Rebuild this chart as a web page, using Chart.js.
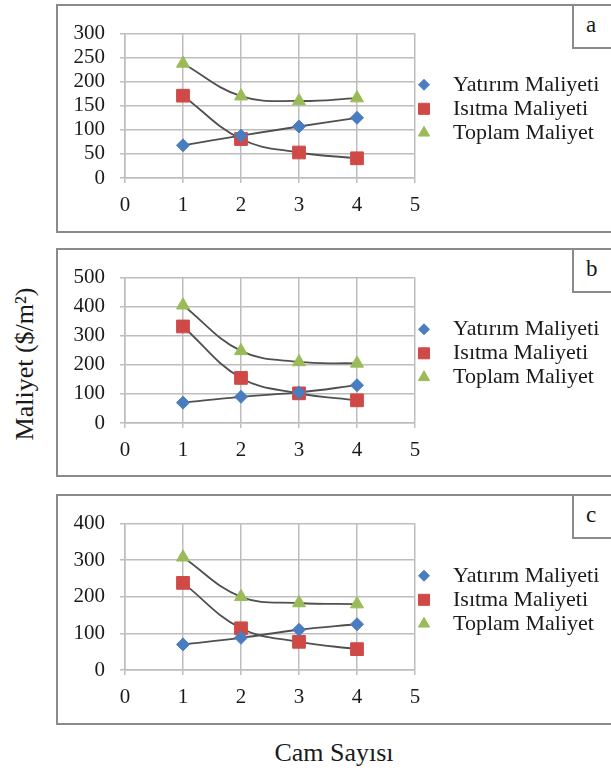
<!DOCTYPE html>
<html>
<head>
<meta charset="utf-8">
<script src="https://cdn.jsdelivr.net/npm/chart.js@4.4.1/dist/chart.umd.min.js"></script>
<style>
  body {
    margin: 0;
    width: 611px;
    height: 776px;
    overflow: hidden;
    position: relative;
    background: #fff;
    font-family: "Liberation Serif", "Times New Roman", serif;
    color: #1a1a1a;
  }
  .panel {
    position: absolute;
    left: 56px;
    width: 600px;
    border: 2px solid #8a8a8a;
    box-sizing: border-box;
  }
  .tag {
    position: absolute;
    left: 514px;
    top: -2px;
    width: 60px;
    height: 45px;
    border: 2px solid #8a8a8a;
    box-sizing: border-box;
    font-size: 23px;
    line-height: 38px;
    padding-left: 12px;
    background: #fff;
  }
  canvas { position: absolute; left: 58px; }
  .ytitle {
    position: absolute;
    left: 25px;
    top: 364px;
    font-size: 26px;
    white-space: nowrap;
    transform: translate(-50%, -50%) rotate(-90deg);
  }
  .xtitle {
    position: absolute;
    left: 334px;
    top: 753px;
    font-size: 26px;
    white-space: nowrap;
    transform: translate(-50%, -50%);
  }
</style>
</head>
<body>
<div class="panel" style="top:4px;height:229px"><div class="tag">a</div></div>
<div class="panel" style="top:248px;height:229px"><div class="tag">b</div></div>
<div class="panel" style="top:494px;height:231px"><div class="tag">c</div></div>

<canvas id="chartA" width="553" height="225" style="top:6px"></canvas>
<canvas id="chartB" width="553" height="225" style="top:250px"></canvas>
<canvas id="chartC" width="553" height="227" style="top:496px"></canvas>

<div class="ytitle">Maliyet ($/m²)</div>
<div class="xtitle">Cam Sayısı</div>

<script>
// number of glass panes
const glassCounts = [1, 2, 3, 4];
const seriesNames = ["Yatırım Maliyeti", "Isıtma Maliyeti", "Toplam Maliyet"];

// panel a
const yatirimA = [68, 88, 107, 125];
const isitmaA = [171, 81, 53, 41];
const toplamA = [238, 170, 160, 166];

// panel b
const yatirimB = [70, 90, 105, 130];
const isitmaB = [332, 155, 102, 78];
const toplamB = [405, 248, 210, 205];

// panel c
const yatirimC = [70, 88, 110, 125];
const isitmaC = [238, 114, 77, 57];
const toplamC = [308, 200, 183, 180];

const FONT_FAMILY = '"Liberation Serif", "Times New Roman", serif';
const TICK_SIZE = 21;
const LEGEND_SIZE = 22;
const TEXT_COLOR = "#1a1a1a";
const GRID_COLOR = "#bdbdbd";
const TREND_COLOR = "#505050";

const colors = {
    yatirim: "#4a7dc0",
    isitma: "#cf4a46",
    toplam: "#9bbb59"
};

// legend marker radius per series (diamond, square, triangle)
const legendRadius = [5.5, 7.8, 6.5];

function toPoints(values) {
    return values.map((v, i) => ({ x: glassCounts[i], y: v }));
}

function markerSet(label, values, style, radius, color) {
    return {
        label: label,
        data: toPoints(values),
        showLine: false,
        pointStyle: style,
        pointRadius: radius,
        pointHoverRadius: radius,
        backgroundColor: color,
        borderColor: color,
        pointBorderWidth: 1,
        order: 0
    };
}

function trendSet(values) {
    return {
        label: "",
        data: toPoints(values),
        showLine: true,
        borderColor: TREND_COLOR,
        borderWidth: 1.8,
        pointRadius: 0,
        pointHoverRadius: 0,
        tension: 0.4,
        fill: false,
        order: 1
    };
}

// legend to the right of the plot, Excel style
const sideLegend = {
    id: "sideLegend",
    afterDraw(chart) {
        const ctx = chart.ctx;
        const area = chart.chartArea;
        const mid = (area.top + area.bottom) / 2;

        ctx.save();
        ctx.font = LEGEND_SIZE + "px " + FONT_FAMILY;
        ctx.textBaseline = "middle";
        chart.data.datasets.slice(0, 3).forEach((ds, i) => {
            const y = mid + (i - 1) * 24 + 3;
            ctx.fillStyle = ds.backgroundColor;
            ctx.strokeStyle = ds.borderColor;
            ctx.lineWidth = 1;
            Chart.helpers.drawPoint(ctx, {
                pointStyle: ds.pointStyle,
                radius: legendRadius[i],
                rotation: 0,
                borderWidth: 1
            }, area.right + 9, y);
            ctx.fillStyle = TEXT_COLOR;
            ctx.fillText(ds.label, area.right + 38, y);
        });
        ctx.restore();
    }
};

function drawPanel(canvasId, yatirim, isitma, toplam, yMax, yStep, layout) {
    const canvas = document.getElementById(canvasId);

    new Chart(canvas, {
        type: "scatter",
        data: {
            datasets: [
                markerSet(seriesNames[0], yatirim, "rectRot", 6.5, colors.yatirim),
                markerSet(seriesNames[1], isitma, "rect", 9, colors.isitma),
                markerSet(seriesNames[2], toplam, "triangle", 7.5, colors.toplam),
                trendSet(yatirim),
                trendSet(isitma),
                trendSet(toplam)
            ]
        },
        options: {
            responsive: false,
            animation: false,
            layout: {
                // plot runs from x=125 to x=415 on the page
                padding: { top: layout.top, left: 0, bottom: 0, right: canvas.width - (415 - 58) }
            },
            scales: {
                x: {
                    type: "linear",
                    min: 0,
                    max: 5,
                    ticks: {
                        stepSize: 1,
                        autoSkip: false,
                        padding: 10,
                        color: TEXT_COLOR,
                        font: { family: FONT_FAMILY, size: TICK_SIZE }
                    },
                    grid: { color: GRID_COLOR, lineWidth: 1.5, tickLength: 5 },
                    border: { color: GRID_COLOR, width: 1.5 },
                    afterFit: (scale) => { scale.height = layout.xHeight; }
                },
                y: {
                    min: 0,
                    max: yMax,
                    ticks: {
                        stepSize: yStep,
                        autoSkip: false,
                        padding: 15,
                        color: TEXT_COLOR,
                        font: { family: FONT_FAMILY, size: TICK_SIZE }
                    },
                    grid: { color: GRID_COLOR, lineWidth: 1.5, tickLength: 5 },
                    border: { color: GRID_COLOR, width: 1.5 },
                    afterFit: (scale) => { scale.width = 125 - 58; }
                }
            },
            plugins: {
                tooltip: { enabled: false },
                legend: { display: false }
            }
        },
        plugins: [sideLegend]
    });
}

drawPanel("chartA", yatirimA, isitmaA, toplamA, 300, 50, { top: 22, xHeight: 53 });
drawPanel("chartB", yatirimB, isitmaB, toplamB, 500, 100, { top: 23, xHeight: 52 });
drawPanel("chartC", yatirimC, isitmaC, toplamC, 400, 100, { top: 22, xHeight: 53 });
</script>
</body>
</html>
